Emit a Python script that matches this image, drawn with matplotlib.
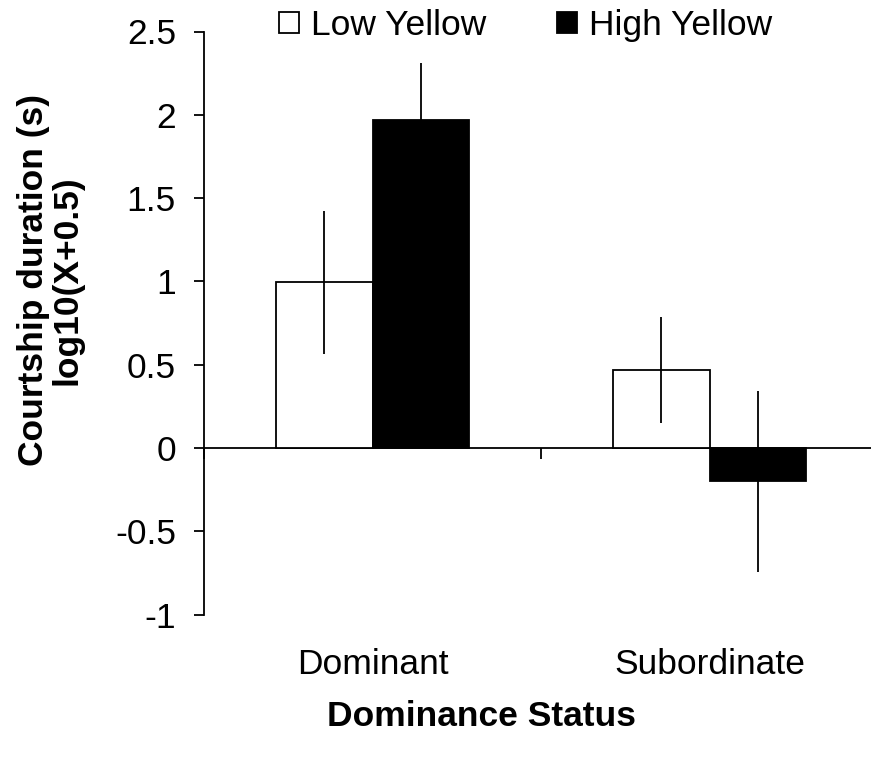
import numpy as np
import matplotlib
matplotlib.use("Agg")
import matplotlib.pyplot as plt
from matplotlib.patches import Patch
from matplotlib.transforms import blended_transform_factory

plt.rcParams['font.family'] = ['Liberation Sans', 'DejaVu Sans']

# --- data ---
categories = ['Dominant', 'Subordinate']
series = ['Low Yellow', 'High Yellow']
low_vals = [0.995, 0.468]
low_err = [0.43, 0.317]
high_vals = [1.97, -0.20]
high_err = [0.34, 0.545]
y_ticks = [-1, -0.5, 0, 0.5, 1, 1.5, 2, 2.5]
y_ticklabels = ['-1', '-0.5', '0', '0.5', '1', '1.5', '2', '2.5']

W, H = 871, 761
FS = 25.5
fig = plt.figure(figsize=(W / 100, H / 100), dpi=100)
ax = fig.add_axes([204 / W, 146.4 / H, 674 / W, 583.1 / H])

x = np.arange(len(categories)) + 0.5
bw = 0.285
lw = 1.3

ax.bar(x - bw / 2, low_vals, bw, color='white', edgecolor='black', linewidth=lw, zorder=2)
ax.bar(x + bw / 2, high_vals, bw, color='black', edgecolor='black', linewidth=lw, zorder=2)
ax.errorbar(x - bw / 2, low_vals, yerr=low_err, fmt='none', ecolor='black',
            elinewidth=lw, capsize=0, zorder=3)
ax.errorbar(x + bw / 2, high_vals, yerr=high_err, fmt='none', ecolor='black',
            elinewidth=lw, capsize=0, zorder=3)

ax.set_xlim(0, 2)
ax.set_ylim(-1, 2.5)
ax.set_yticks(y_ticks)
ax.set_yticklabels(y_ticklabels)
ax.set_xticks([0, 1, 2])
ax.set_xticklabels([])

for s in ['top', 'right']:
    ax.spines[s].set_visible(False)
ax.spines['bottom'].set_position(('data', 0))
ax.spines['bottom'].set_zorder(1)
for s in ['left', 'bottom']:
    ax.spines[s].set_linewidth(lw)
ax.tick_params(axis='y', direction='out', length=7.2, width=lw, labelsize=FS, pad=13)
ax.tick_params(axis='x', direction='out', length=8, width=lw)

# category labels below the plot
tr = blended_transform_factory(ax.transData, fig.transFigure)
for xi, lab in zip(x, categories):
    ax.text(xi, 1 - 665 / H, lab, transform=tr, ha='center', va='center', fontsize=FS)

fig.text(481 / W, 1 - 716 / H, 'Dominance Status', ha='center', va='center',
         fontsize=FS, fontweight='bold')
fig.text(50 / W, 1 - 280 / H, 'Courtship duration (s)\nlog10(X+0.5)', ha='center',
         va='center', rotation=90, fontsize=FS, fontweight='bold', linespacing=1.0)

handles = [Patch(facecolor='white', edgecolor='black', linewidth=lw),
           Patch(facecolor='black', edgecolor='black', linewidth=lw)]
fig.legend(handles, series, loc='upper left', bbox_to_anchor=(279 / W, 1 - 9 / H),
           ncol=2, frameon=False, fontsize=FS, handlelength=0.565, handleheight=0.565,
           handletextpad=0.34, columnspacing=2.0, borderpad=0, borderaxespad=0)

fig.savefig('out.png', dpi=100)
